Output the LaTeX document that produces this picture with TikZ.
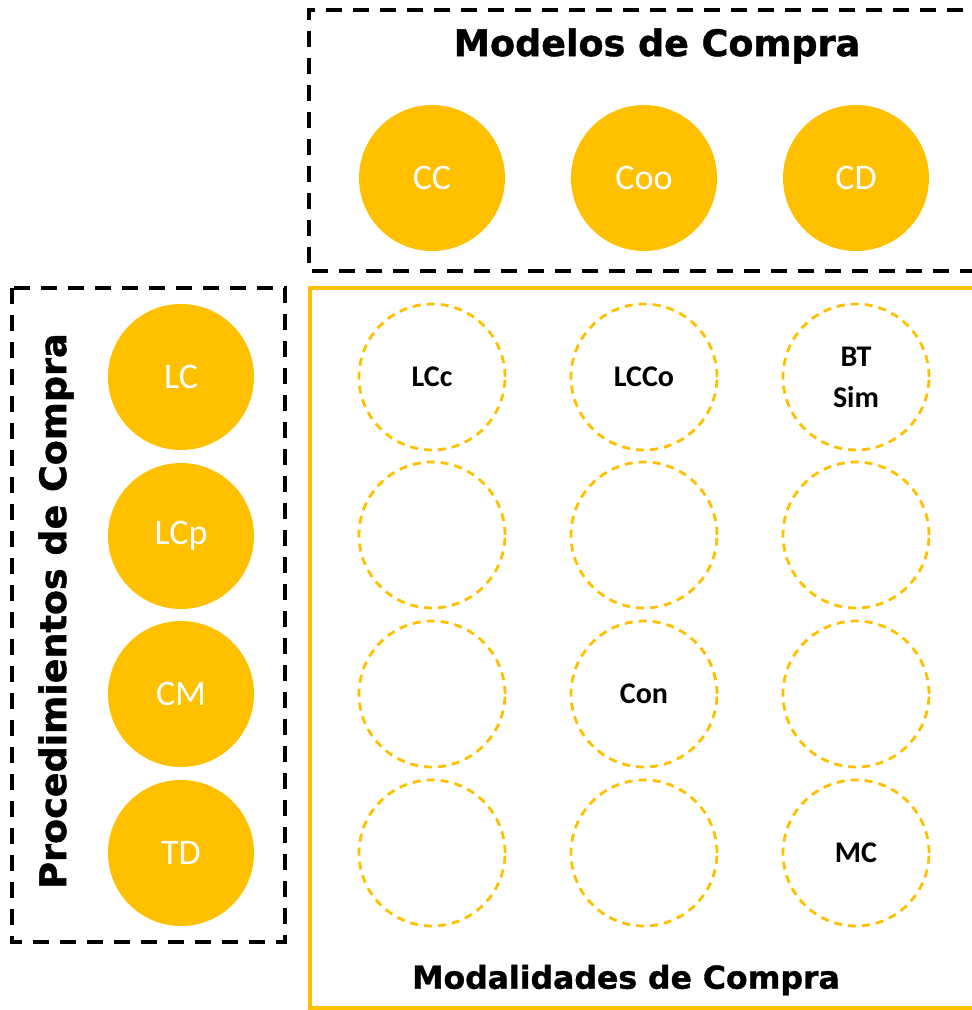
\documentclass[tikz,border=0pt]{standalone}
\usepackage{fontspec}
\setmainfont{Carlito}
\newfontfamily\titlefont{DejaVu Sans}[BoldFeatures={FakeBold=1.2}]
\definecolor{gold}{HTML}{FFC000}
\tikzset{
  fullcirc/.style={circle, fill=gold, draw=none, minimum size=146pt, inner sep=0pt, text=white, font=\fontsize{36}{40}\selectfont},
  emptycirc/.style={circle, draw=gold, line width=2.8pt, dash pattern=on 8pt off 6pt, minimum size=146pt, inner sep=0pt, text=black, align=center, font=\bfseries\fontsize{30}{41}\selectfont},
  blackbox/.style={draw=black, line width=3.5pt, dash pattern=on 16pt off 11pt},
  titletext/.style={font=\titlefont\bfseries\fontsize{36.5}{40}\selectfont, text=black, inner sep=0pt}
}
\begin{document}
\begin{tikzpicture}[x=1pt,y=-1pt]
\useasboundingbox (0,0) rectangle (972,1010);
\clip (0,0) rectangle (972,1010);
% boxes
\draw[blackbox] (990,10) -- (309,10) -- (309,271) -- (990,271);
\draw[blackbox] (12,288) rectangle (285,942);
\draw[draw=gold, line width=4pt] (990,288) -- (310,288) -- (310,1008) -- (990,1008);
% titles
\node[titletext] (tmod) at (657,46) {Modelos de Compra};
\node[titletext, rotate=90] (tproc) at (56,611) {Procedimientos de Compra};
\node[titletext, font=\titlefont\bfseries\fontsize{31.5}{36}\selectfont] (tmodal) at (626,980) {Modalidades de Compra};
% models
\node[fullcirc] (cc) at (432,178) {CC};
\node[fullcirc] (coo) at (644,178) {Coo};
\node[fullcirc] (cd) at (856,178) {CD};
% procedures
\node[fullcirc] (lc) at (181,377) {LC};
\node[fullcirc] (lcp) at (181,536) {LCp};
\node[fullcirc] (cm) at (181,694) {CM};
\node[fullcirc] (td) at (181,853) {TD};
% grid
\node[emptycirc] (g11) at (432,377) {LCc};
\node[emptycirc] (g12) at (644,377) {LCCo};
\node[emptycirc] (g13) at (856,377) {BT\\Sim};
\node[emptycirc] (g21) at (432,535) {};
\node[emptycirc] (g22) at (644,535) {};
\node[emptycirc] (g23) at (856,535) {};
\node[emptycirc] (g31) at (432,694) {};
\node[emptycirc] (g32) at (644,694) {Con};
\node[emptycirc] (g33) at (856,694) {};
\node[emptycirc] (g41) at (432,853) {};
\node[emptycirc] (g42) at (644,853) {};
\node[emptycirc] (g43) at (856,853) {MC};
\end{tikzpicture}
\end{document}
